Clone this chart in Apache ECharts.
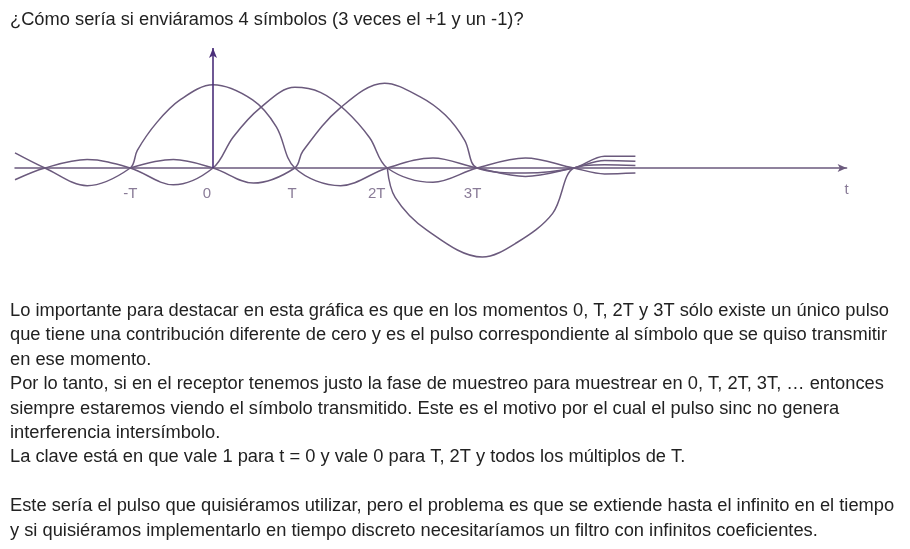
<!DOCTYPE html>
<html>
<head>
<meta charset="utf-8">
<script src="https://cdn.jsdelivr.net/npm/echarts@6/dist/echarts.min.js"></script>
<style>
  html, body { margin: 0; padding: 0; background: #fff; }
  #chart { width: 910px; height: 549px; }
</style>
</head>
<body>
<div id="chart"></div>
<script>
// pulsos sinc: [t (en T), amplitud]
const pulse0 = [[-2.25, 0.18], [-1.91, 0], [-1.43, -0.21], [-0.94, 0], [-0.86, 0.21], [-0.64, 0.54], [-0.375, 0.81], [0, 0.99], [0.45, 0.81], [0.72, 0.49], [0.93, 0], [1.45, -0.21], [1.98, 0], [2.5, 0.12], [3.0, 0], [3.55, -0.1], [4.1, 0], [4.45, 0.09], [4.8, 0.08]];
const pulseT = [[-2.25, -0.14], [-1.91, 0], [-1.43, 0.1], [-0.94, 0], [-0.45, -0.2], [0, 0], [0.23, 0.37], [0.53, 0.71], [0.93, 0.96], [1.22, 0.9], [1.5, 0.69], [1.78, 0.36], [1.98, 0], [2.5, -0.17], [3.0, 0], [3.55, 0.12], [4.1, 0], [4.45, -0.07], [4.8, -0.06]];
const pulse2T = [[-0.94, 0], [-0.45, 0.1], [0, 0], [0.46, -0.18], [0.93, 0], [1.02, 0.2], [1.44, 0.71], [1.95, 1.01], [2.35, 0.85], [2.64, 0.63], [2.86, 0.33], [3.0, 0], [3.55, -0.06], [4.1, 0], [4.45, 0.14], [4.8, 0.14]];
const pulse3T = [[1.98, 0], [2.07, -0.35], [2.43, -0.74], [3.06, -1.06], [3.45, -0.89], [3.86, -0.54], [4.1, 0], [4.45, 0.04], [4.8, 0.03]];

const tickPos = [-0.94, -0.07, 0.9, 1.86, 2.95];
const tickNames = ['-T', '0', 'T', '2T', '3T'];
const axisName = 't';

const title = '¿Cómo sería si enviáramos 4 símbolos (3 veces el +1 y un -1)?';
const paragraph = [
  'Lo importante para destacar en esta gráfica es que en los momentos 0, T, 2T y 3T sólo existe un único pulso',
  'que tiene una contribución diferente de cero y es el pulso correspondiente al símbolo que se quiso transmitir',
  'en ese momento.',
  'Por lo tanto, si en el receptor tenemos justo la fase de muestreo para muestrear en 0, T, 2T, 3T, … entonces',
  'siempre estaremos viendo el símbolo transmitido. Este es el motivo por el cual el pulso sinc no genera',
  'interferencia intersímbolo.',
  'La clave está en que vale 1 para t = 0 y vale 0 para T, 2T y todos los múltiplos de T.',
  '',
  'Este sería el pulso que quisiéramos utilizar, pero el problema es que se extiende hasta el infinito en el tiempo',
  'y si quisiéramos implementarlo en tiempo discreto necesitaríamos un filtro con infinitos coeficientes.'
];

const ink = '#6b5a7d';
const darkInk = '#4b2f7a';
const font = '"Liberation Sans", Arial, sans-serif';

const chart = echarts.init(document.getElementById('chart'));

function pulseSeries(name, data) {
  return {
    name: name,
    type: 'line',
    data: data,
    smooth: 0.35,
    showSymbol: false,
    silent: true,
    lineStyle: { color: ink, width: 1.5 },
    z: 3
  };
}

const graphics = [{
  type: 'text',
  left: 10,
  top: 11,
  style: { text: title, font: '18.3px ' + font, fill: '#222' }
}];
paragraph.forEach((line, i) => {
  if (!line) return;
  graphics.push({
    type: 'text',
    left: 10,
    top: 302 + i * 24.4,
    style: { text: line, font: '18.3px ' + font, fill: '#222' }
  });
});

chart.setOption({
  animation: false,
  backgroundColor: '#fff',
  grid: { left: 15, top: 42, width: 831.6, height: 252 },
  xAxis: {
    type: 'value',
    min: -2.25,
    max: 7.2,
    axisLine: {
      onZero: true,
      symbol: ['none', 'arrow'],
      symbolSize: [6, 9],
      lineStyle: { color: ink, width: 1.5 }
    },
    axisTick: { show: false },
    axisLabel: { show: false },
    splitLine: { show: false }
  },
  yAxis: {
    type: 'value',
    min: -1.5,
    max: 1.5,
    show: false
  },
  graphic: graphics,
  series: [
    pulseSeries('+1 en 0', pulse0),
    pulseSeries('+1 en T', pulseT),
    pulseSeries('+1 en 2T', pulse2T),
    pulseSeries('-1 en 3T', pulse3T),
    {
      name: 'eje',
      type: 'line',
      data: [],
      markLine: {
        silent: true,
        symbol: ['none', 'arrow'],
        symbolSize: [6, 10],
        label: { show: false },
        lineStyle: { color: darkInk, width: 1.6, type: 'solid' },
        data: [[{ coord: [0, 0] }, { coord: [0, 1.43] }]]
      }
    },
    {
      name: 'marcas',
      type: 'scatter',
      symbolSize: 0,
      silent: true,
      data: tickPos.map((t, i) => ({ value: [t, -0.31], name: tickNames[i] }))
        .concat([{ value: [7.2, -0.26], name: axisName }]),
      label: {
        show: true,
        position: 'inside',
        formatter: p => p.name,
        color: ink,
        fontFamily: font,
        fontSize: 15
      }
    }
  ]
});
</script>
</body>
</html>
